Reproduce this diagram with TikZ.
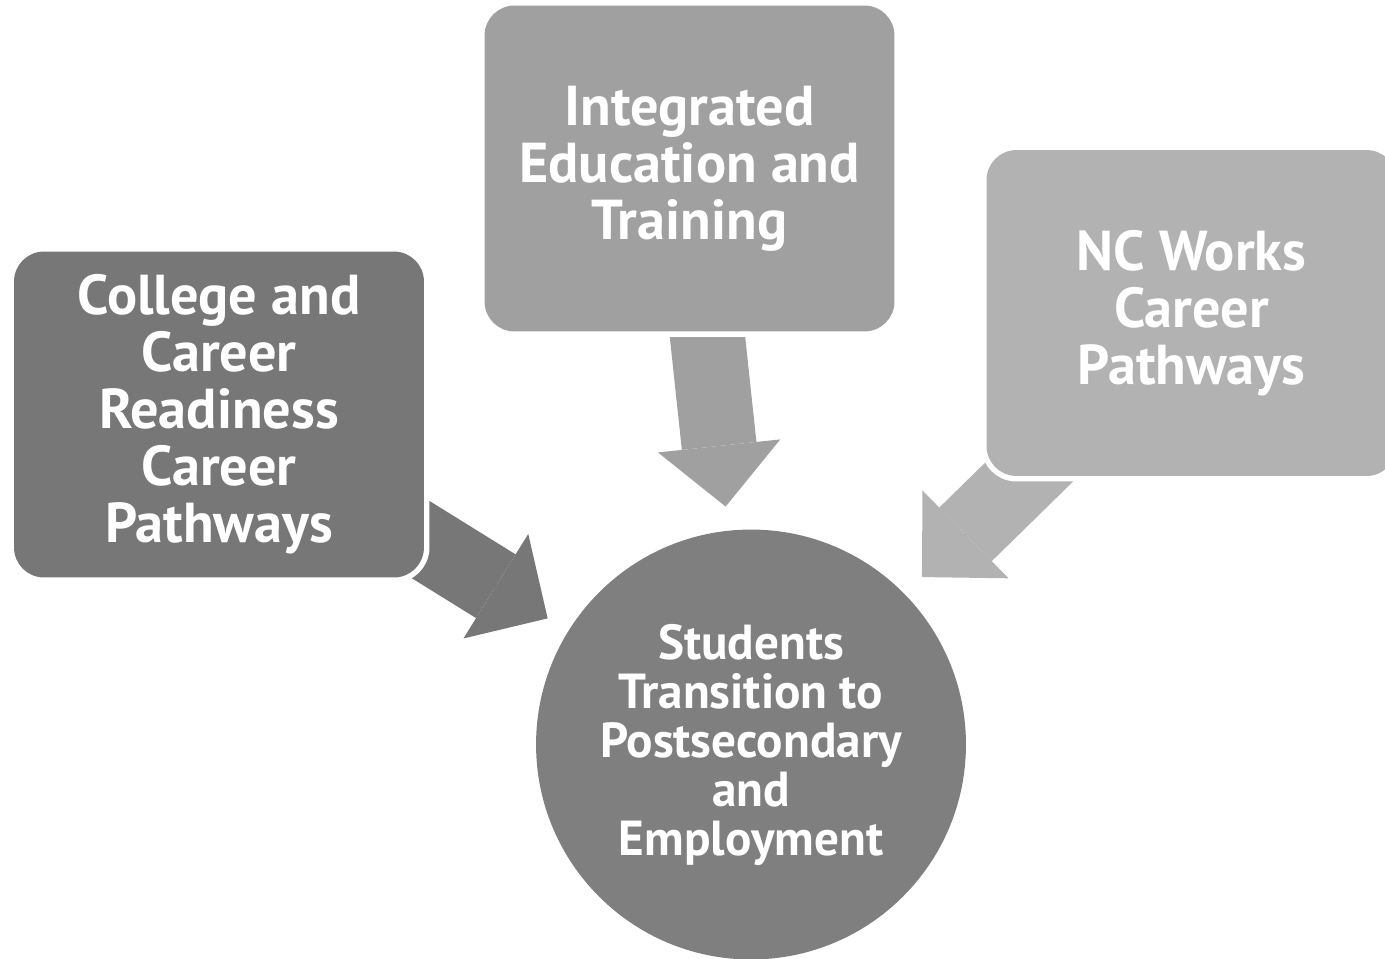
\documentclass[tikz,border=0pt]{standalone}
\usepackage{fontspec}
\setmainfont{PT Sans}
\usepackage{tikz}
\usetikzlibrary{arrows.meta,positioning,backgrounds}
\definecolor{gdark}{HTML}{777777}
\definecolor{gmid}{HTML}{A0A0A0}
\definecolor{glight}{HTML}{B2B2B2}
\definecolor{gcirc}{HTML}{7F7F7F}

\begin{document}
\begin{tikzpicture}[x=0.02cm,y=-0.02cm,
    every node/.style={align=center,text=white,font=\bfseries\fontsize{32}{32.4}\selectfont},
    box/.style={rounded corners=0.6cm,minimum width=8.2cm,minimum height=6.52cm,
                inner sep=0pt,preaction={draw=white,line width=0.22cm}},
    flow/.style={line width=1.5cm,shorten >=0.48cm,
                 preaction={draw,-,shorten >=1.38cm},
                 -{Triangle[width=2.46cm 0,length=1.22cm 0 0,line width=0pt 0 0]}}]
  \useasboundingbox (0,0) rectangle (1385,958);
  \node[box,fill=gdark] (ccr) at (219,414.5) {
    College and\\Career\\Readiness\\Career\\Pathways
  };
  \node[box,fill=gmid] (iet) at (689.5,168.5) {
    Integrated\\Education and\\Training
  };
  \node[box,fill=glight] (ncw) at (1191.5,313) {
    NC Works\\Career\\Pathways
  };
  \node[circle,fill=gcirc,minimum size=8.6cm,inner sep=0pt,
        font=\bfseries\fontsize{28}{27.9}\selectfont] (st) at (751,744.5) {
    Students\\Transition to\\Postsecondary\\and\\Employment
  };
  \begin{scope}[on background layer]
    \draw[flow,gdark] (ccr.center) -- (st);
    \draw[flow,gmid] (iet.center) -- (st);
    \draw[flow,glight] (ncw.center) -- (st);
  \end{scope}
\end{tikzpicture}
\end{document}
